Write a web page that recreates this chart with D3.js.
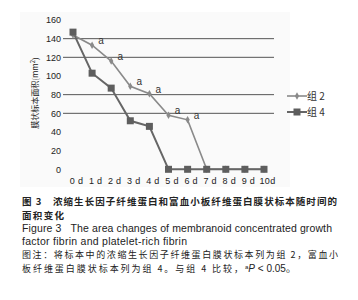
<!DOCTYPE html>
<html><head><meta charset="utf-8">
<script src="https://cdn.jsdelivr.net/npm/d3@7"></script>
<style>body{margin:0;background:#fff}svg{display:block}</style>
</head><body>
<script>
const days = ["0 d","1 d","2 d","3 d","4 d","5 d","6 d","7 d","8 d","9 d","10d"];
const group2 = [144,133,116,89,81,58,53,0,0,0,0];
const group4 = [147,103,87,52,46,0,0,0,0,0,0];
const sigMarks = ["","a","a","a","a","a","a","","","",""];
const yTicks = [0,20,40,60,80,100,120,140,160];
const gridValues = [60,80,120,140];
const seriesNames = ["组 2","组 4"];

const W=358,H=300;
const svg=d3.select("body").append("svg").attr("width",W).attr("height",H);
svg.append("rect").attr("x",20).attr("y",12).attr("width",270).attr("height",175).attr("fill","#fafafa");

const x=d3.scalePoint().domain(days).range([73,264]);
const y=d3.scaleLinear().domain([0,160]).range([169.3,20]);

svg.append("g").selectAll("line").data(gridValues).join("line")
 .attr("x1",63).attr("x2",274).attr("y1",d=>y(d)).attr("y2",d=>y(d))
 .attr("stroke","#555").attr("stroke-width",1);

const ya=svg.append("g").attr("transform","translate(63,0)")
 .call(d3.axisLeft(y).tickValues(yTicks).tickSize(0).tickPadding(2));
ya.select(".domain").remove();
ya.selectAll("text").attr("font-family","Liberation Sans, Arial, sans-serif").attr("font-size",9).attr("fill","#222");

const xa=svg.append("g").attr("transform","translate(3,172)")
 .call(d3.axisBottom(x).tickSize(0).tickPadding(6));
xa.select(".domain").remove();
xa.selectAll("text").attr("font-family","Liberation Sans, Arial, sans-serif").attr("font-size",9).attr("fill","#222").attr("letter-spacing",0.3);

const yt=svg.append("text").attr("transform","translate(37.5,93) rotate(-90)")
 .attr("text-anchor","middle").attr("font-family","Noto Sans CJK SC, sans-serif").attr("font-size",8).attr("fill","#222");
yt.append("tspan").text("膜状标本面积(mm");
yt.append("tspan").attr("dy",-3).attr("font-size",6).text("2");
yt.append("tspan").attr("dy",3).text(")");

const line=d3.line().x((d,i)=>x(days[i])).y(d=>y(d));
const c2="#8a8a8a", c4="#666";
svg.append("path").datum(group2).attr("d",line).attr("fill","none").attr("stroke",c2).attr("stroke-width",1.6);
svg.append("path").datum(group4).attr("d",line).attr("fill","none").attr("stroke",c4).attr("stroke-width",2);

const diamond=d3.symbol().type(d3.symbolDiamond).size(16);
svg.append("g").selectAll("path").data(group2).join("path")
 .attr("d",diamond).attr("transform",(d,i)=>`translate(${x(days[i])},${y(d)})`).attr("fill",c2);
svg.append("g").selectAll("rect").data(group4).join("rect")
 .attr("x",(d,i)=>x(days[i])-3.5).attr("y",d=>y(d)-3.5).attr("width",7).attr("height",7).attr("fill","#5e5e5e");

svg.append("g").selectAll("text").data(group2).join("text")
 .attr("x",(d,i)=>x(days[i])+9).attr("y",d=>y(d)-1)
 .attr("text-anchor","middle").attr("font-family","Liberation Sans, Arial, sans-serif").attr("font-size",10).attr("fill","#333")
 .text((d,i)=>sigMarks[i]);

const leg=svg.append("g");
[[c2,96],[c4,112]].forEach(([c,ly],k)=>{
  leg.append("line").attr("x1",287).attr("x2",307).attr("y1",ly).attr("y2",ly).attr("stroke",c).attr("stroke-width",k?2:1.6);
  if(k===0) leg.append("path").attr("d",diamond).attr("transform",`translate(297,${ly})`).attr("fill",c);
  else leg.append("rect").attr("x",293.5).attr("y",ly-3.5).attr("width",7).attr("height",7).attr("fill","#5e5e5e");
  leg.append("text").attr("x",307).attr("y",ly+3.5).attr("font-family","Noto Sans CJK SC, serif").attr("font-size",10).attr("fill","#333").text(seriesNames[k]);
});

const cap=[
 {t:"图 3　浓缩生长因子纤维蛋白和富血小板纤维蛋白膜状标本随时间的",y:205,w:315,b:"bold",f:"Noto Sans CJK SC",s:9.5},
 {t:"面积变化",y:218.5,w:42,b:"bold",f:"Noto Sans CJK SC",s:9.5},
 {t:"Figure 3\u00a0\u00a0\u00a0The area changes of membranoid concentrated growth",y:231.5,w:310,b:"normal",f:"Liberation Sans",s:10.5},
 {t:"factor fibrin and platelet-rich fibrin",y:244.5,w:165,b:"normal",f:"Liberation Sans",s:10.5},
 {t:"图注：将标本中的浓缩生长因子纤维蛋白膜状标本列为组 2，富血小",y:258,w:316,b:"normal",f:"Noto Sans CJK SC",s:9},
 {t:"板纤维蛋白膜状标本列为组 4。与组 4 比较，",y:271.5,w:221,b:"normal",f:"Noto Sans CJK SC",s:9}
];
cap.forEach(c=>{
 svg.append("text").attr("x",22).attr("y",c.y).attr("font-family",c.f+", sans-serif").attr("font-size",c.s)
  .attr("font-weight",c.b).attr("fill","#222").attr("textLength",c.w).attr("lengthAdjust","spacing").text(c.t);
});
const last=svg.append("text").attr("x",245).attr("y",271.5).attr("font-family","Liberation Sans, sans-serif").attr("font-size",10).attr("fill","#222");
last.append("tspan").attr("font-size",6).attr("dy",-3).text("a");
last.append("tspan").attr("dy",3).attr("font-style","italic").text("P");
last.append("tspan").text(" < 0.05");
last.append("tspan").attr("font-family","Noto Sans CJK SC, sans-serif").text("。");
</script>
</body></html>
